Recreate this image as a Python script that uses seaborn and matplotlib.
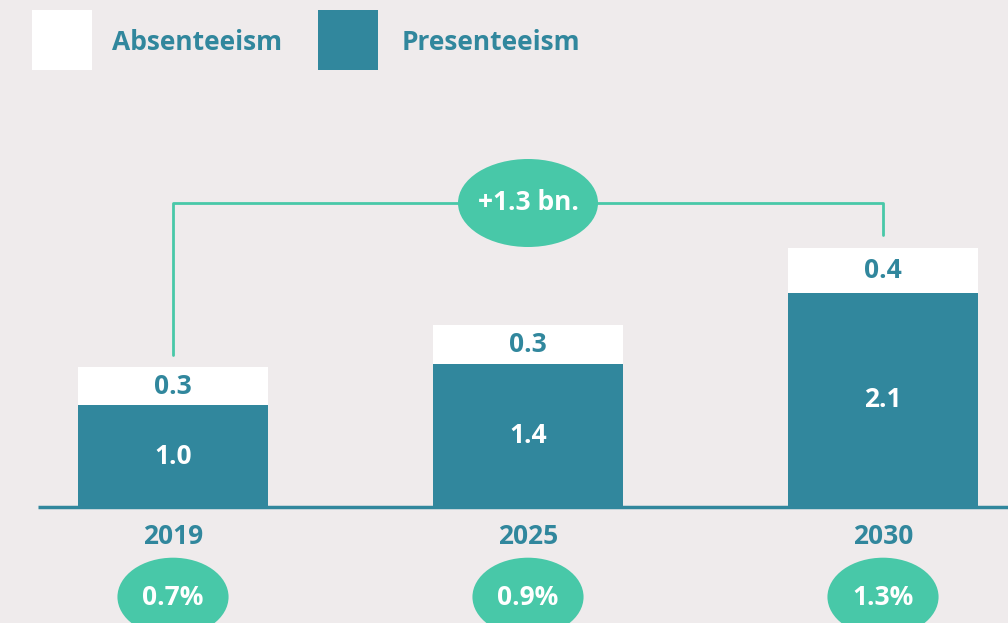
import numpy as np
import pandas as pd
import matplotlib
matplotlib.use("Agg")
import matplotlib.pyplot as plt
import seaborn as sns
from matplotlib.patches import Ellipse, Rectangle

# data
years = ["2019", "2025", "2030"]
presenteeism = [1.0, 1.4, 2.1]
absenteeism = [0.37, 0.38, 0.44]   # bar heights as drawn
pres_labels = ["1.0", "1.4", "2.1"]
abs_labels = ["0.3", "0.3", "0.4"]
growth = ["0.7%", "0.9%", "1.3%"]
change_label = "+1.3 bn."

bg = "#efebec"
teal = "#31879d"
green = "#48c8a8"

sns.set_style("white")
plt.rcParams["font.family"] = ["Open Sans", "DejaVu Sans"]
plt.rcParams["font.weight"] = "bold"

df = pd.DataFrame({"year": years, "pres": presenteeism, "abs": absenteeism})
df["total"] = df["pres"] + df["abs"]

fig = plt.figure(figsize=(10.08, 6.23), dpi=100, facecolor=bg)
ax = fig.add_axes([0, 0, 1, 1])
ax.set_facecolor(bg)

bw = 0.535
sns.barplot(data=df, x="year", y="total", color="white", width=bw,
            saturation=1, ax=ax, linewidth=0)
sns.barplot(data=df, x="year", y="pres", color=teal, width=bw,
            saturation=1, ax=ax, linewidth=0)

# px-based limits: 355 px per category, 102 px per unit
ax.set_xlim(-173 / 355, (1008 - 173) / 355)
ax.set_ylim(-116 / 102, (623 - 116) / 102)
ax.axis("off")

ax.hlines(0, (38 - 173) / 355, 2.5, color=teal, lw=2.5, zorder=3)

fs = 19
for i, row in df.iterrows():
    ax.text(i, row["pres"] / 2, pres_labels[i], color="white",
            ha="center", va="center", fontsize=fs, fontweight="bold")
    ax.text(i, row["pres"] + row["abs"] / 2, abs_labels[i], color=teal,
            ha="center", va="center", fontsize=fs, fontweight="bold")
    ax.text(i, -0.285, row["year"], color=teal, ha="center", va="center",
            fontsize=fs, fontweight="bold")
    ax.add_patch(Ellipse((i, -0.882), 0.313, 0.77, color=green, lw=0, zorder=4))
    ax.text(i, -0.89, growth[i], color="white", ha="center", va="center",
            fontsize=fs, fontweight="bold", zorder=5)

# bracket
top_y = (507 - 203) / 102
left_start = (507 - 355) / 102
right_end = (507 - 235) / 102
ax.plot([0, 0, 2, 2], [left_start, top_y, top_y, right_end], color=green,
        lw=2, zorder=3)
ax.add_patch(Ellipse((1, top_y), 140 / 355, 88 / 102, color=green, lw=0, zorder=4))
ax.text(1, top_y, change_label, color="white", ha="center", va="center",
        fontsize=fs, fontweight="bold", zorder=5)

# legend
W, H = 1008, 623
fig.add_artist(Rectangle((32 / W, (H - 70) / H), 60 / W, 60 / H,
                         transform=fig.transFigure, color="white", lw=0))
fig.add_artist(Rectangle((318 / W, (H - 70) / H), 60 / W, 60 / H,
                         transform=fig.transFigure, color=teal, lw=0))
fig.text(112 / W, (H - 43) / H, "Absenteeism", color=teal, ha="left",
         va="center", fontsize=19, fontweight="bold")
fig.text(402 / W, (H - 43) / H, "Presenteeism", color=teal, ha="left",
         va="center", fontsize=19, fontweight="bold")

fig.savefig("out.png", dpi=100, facecolor=bg)
